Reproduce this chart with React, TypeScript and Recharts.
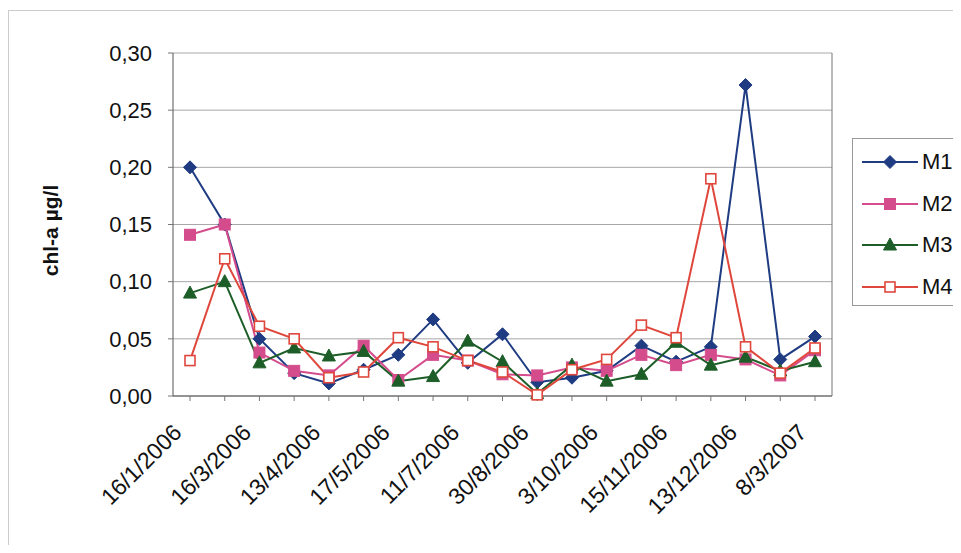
import React from 'react';
import { LineChart, Line, XAxis, YAxis, CartesianGrid, Legend, Label } from 'recharts';

const dates = [
  '16/1/2006', '', '16/3/2006', '', '13/4/2006', '', '17/5/2006', '', '11/7/2006', '',
  '30/8/2006', '', '3/10/2006', '', '15/11/2006', '', '13/12/2006', '', '8/3/2007',
];
const m1 = [0.200, 0.150, 0.050, 0.020, 0.011, 0.023, 0.036, 0.067, 0.029, 0.054, 0.012, 0.016, 0.022, 0.044, 0.030, 0.043, 0.272, 0.032, 0.052];
const m2 = [0.141, 0.150, 0.038, 0.022, 0.018, 0.044, 0.014, 0.036, 0.031, 0.019, 0.018, 0.025, 0.022, 0.036, 0.027, 0.036, 0.032, 0.018, 0.040];
const m3 = [0.090, 0.100, 0.029, 0.042, 0.035, 0.039, 0.013, 0.017, 0.048, 0.030, 0.002, 0.027, 0.013, 0.019, 0.047, 0.027, 0.034, 0.022, 0.030];
const m4 = [0.031, 0.120, 0.061, 0.050, 0.016, 0.021, 0.051, 0.043, 0.031, 0.021, 0.001, 0.023, 0.032, 0.062, 0.051, 0.190, 0.043, 0.020, 0.042];
const yTicks = [0, 0.05, 0.1, 0.15, 0.2, 0.25, 0.3];

const data = dates.map((d, i) => ({ i: String(i), date: d, M1: m1[i], M2: m2[i], M3: m3[i], M4: m4[i] }));

const FONT = '"Liberation Sans", Arial, sans-serif';

const series = [
  { key: 'M1', color: '#1f3c82', shape: 'diamond' },
  { key: 'M2', color: '#d54c8c', shape: 'square' },
  { key: 'M3', color: '#1d5e28', shape: 'triangle' },
  { key: 'M4', color: '#e0473c', shape: 'hollow' },
];

function Marker({ cx, cy, shape, color }: any) {
  if (cx == null || cy == null) return null;
  if (shape === 'diamond') {
    const r = 6.5;
    return <polygon points={`${cx},${cy - r} ${cx + r},${cy} ${cx},${cy + r} ${cx - r},${cy}`} fill={color} stroke={color} />;
  }
  if (shape === 'square') {
    return <rect x={cx - 5.5} y={cy - 5.5} width={11} height={11} fill={color} stroke={color} />;
  }
  if (shape === 'triangle') {
    return <polygon points={`${cx},${cy - 7} ${cx + 6.5},${cy + 5} ${cx - 6.5},${cy + 5}`} fill={color} stroke={color} />;
  }
  return <rect x={cx - 5} y={cy - 5} width={10} height={10} fill="#fff" stroke={color} strokeWidth={1.6} />;
}

function XTick({ x, y, payload }: any) {
  const label = dates[Number(payload.value)];
  if (!label) return null;
  const tx = x - 7;
  const ty = y + 31;
  return (
    <text x={tx} y={ty} transform={`rotate(-45, ${tx}, ${ty})`} textAnchor="end"
      fontSize={23} fontFamily={FONT} fill="#111">{label}</text>
  );
}

function LegendBox() {
  return (
    <div style={{ border: '1px solid #999', background: '#fff', width: 120, height: 166, position: 'relative', fontFamily: FONT }}>
      {series.map((s, k) => (
        <div key={s.key} style={{ position: 'absolute', left: 8, top: 9 + k * 41.5, height: 28, display: 'flex', alignItems: 'center' }}>
          <svg width={58} height={28}>
            <line x1={1} y1={14} x2={57} y2={14} stroke={s.color} strokeWidth={2} />
            <Marker cx={29} cy={14} shape={s.shape} color={s.color} />
          </svg>
          <span style={{ fontSize: 22, marginLeft: 3, color: '#111' }}>{s.key}</span>
        </div>
      ))}
    </div>
  );
}

export default function App() {
  return (
    <div style={{ position: 'relative', width: 945, height: 537 }}>
      <div style={{ position: 'absolute', left: 0, top: 2, width: 950, height: 540, border: '1px solid #ccc' }} />
      <LineChart width={945} height={537} data={data} margin={{ top: 45, right: 0, left: 0, bottom: 0 }}>
        <CartesianGrid horizontal vertical={false} stroke="#a8a8a8" yAxisId="l" />
        <XAxis dataKey="i" interval={0} height={149} tick={<XTick />} tickSize={5} padding={{ left: 17, right: 17 }}
          axisLine={{ stroke: '#555' }} tickLine={{ stroke: '#777' }} />
        <YAxis yAxisId="l" width={165} domain={[0, 0.3]} ticks={yTicks} tickSize={5} tickMargin={16}
          tickFormatter={(v: number) => v.toFixed(2).replace('.', ',')}
          tick={{ fontSize: 22, fontFamily: FONT, fill: '#111' }}
          axisLine={{ stroke: '#555' }} tickLine={{ stroke: '#777' }}>
          <Label content={({ viewBox }: any) => {
            const cx = 42;
            const cy = viewBox.y + viewBox.height / 2 + 6;
            return (
              <text x={cx} y={cy} transform={`rotate(-90, ${cx}, ${cy})`} textAnchor="middle" dominantBaseline="central"
                fontSize={21} fontWeight="bold" fontFamily={FONT} fill="#111">chl-a µg/l</text>
            );
          }} />
        </YAxis>
        <YAxis yAxisId="r" orientation="right" width={121} tick={false} tickLine={false} axisLine={{ stroke: '#777' }} />
        {series.map((s) => (
          <Line key={s.key} yAxisId="l" dataKey={s.key} stroke={s.color} strokeWidth={2} isAnimationActive={false}
            dot={(p: any) => <Marker key={`${s.key}-${p.index}`} cx={p.cx} cy={p.cy} shape={s.shape} color={s.color} />} />
        ))}
        <Legend layout="horizontal" verticalAlign="middle" align="center" content={<LegendBox />}
          wrapperStyle={{ left: 844, top: 130, width: 'auto', height: 'auto' }} />
      </LineChart>
    </div>
  );
}
